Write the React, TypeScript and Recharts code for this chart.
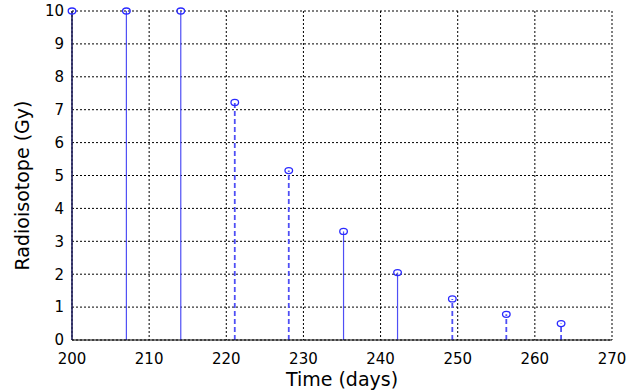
import {
  CartesianGrid,
  ComposedChart,
  Label,
  ReferenceLine,
  Scatter,
  XAxis,
  YAxis,
} from 'recharts'

const days = [200, 207.05, 214.1, 221.1, 228.1, 235.2, 242.2, 249.3, 256.3, 263.4]
const doses = [10, 10, 10, 7.22, 5.15, 3.3, 2.05, 1.25, 0.78, 0.5]
const dashedStems = [false, false, false, true, true, false, false, true, true, true]
const xTicks = [200, 210, 220, 230, 240, 250, 260, 270]
const yTicks = [0, 1, 2, 3, 4, 5, 6, 7, 8, 9, 10]

const font = 'DejaVu Sans, sans-serif'
const stemColor = '#4f4ff5'

const points = days.map((day, i) => ({ day, dose: doses[i], dashed: dashedStems[i] }))

// hollow little ellipse like the octave stem marker
function Marker(props: any) {
  const { cx, cy } = props
  if (cx == null || cy == null) return null
  return <ellipse cx={cx} cy={cy} rx={3.8} ry={3} fill="none" stroke="#2a2aff" strokeWidth={1.3} />
}

function App() {
  return (
    <div style={{ position: 'absolute', left: 0, top: 0, background: '#fff' }}>
      <ComposedChart
        width={634}
        height={392}
        data={points}
        margin={{ top: 11, right: 22, bottom: 0, left: 0 }}
      >
        <CartesianGrid stroke="#000" strokeDasharray="2 2" />
        <XAxis
          dataKey="day"
          type="number"
          domain={[200, 270]}
          ticks={xTicks}
          height={52}
          tickLine={false}
          tickMargin={7}
          axisLine={{ stroke: '#000' }}
          tick={{ fill: '#000', fontSize: 15, fontFamily: font }}
        >
          <Label
            value="Time (days)"
            position="insideBottom"
            offset={6}
            style={{ fill: '#000', fontSize: 19, fontFamily: font }}
          />
        </XAxis>
        <YAxis
          dataKey="dose"
          type="number"
          domain={[0, 10]}
          ticks={yTicks}
          width={72}
          tickLine={false}
          axisLine={{ stroke: '#000' }}
          tick={{ fill: '#000', fontSize: 15, fontFamily: font }}
        >
          <Label
            value="Radioisotope (Gy)"
            angle={-90}
            position="insideLeft"
            offset={22}
            dy={10}
            style={{ fill: '#000', fontSize: 19, fontFamily: font, textAnchor: 'middle' }}
          />
        </YAxis>
        {points.map((p) => (
          <ReferenceLine
            key={p.day}
            segment={[
              { x: p.day, y: 0 },
              { x: p.day, y: p.dose },
            ]}
            stroke={stemColor}
            strokeWidth={p.dashed ? 1.8 : 1.2}
            strokeDasharray={p.dashed ? '5 3' : undefined}
            ifOverflow="visible"
          />
        ))}
        <Scatter dataKey="dose" shape={<Marker />} isAnimationActive={false} />
      </ComposedChart>
    </div>
  )
}

export default App
